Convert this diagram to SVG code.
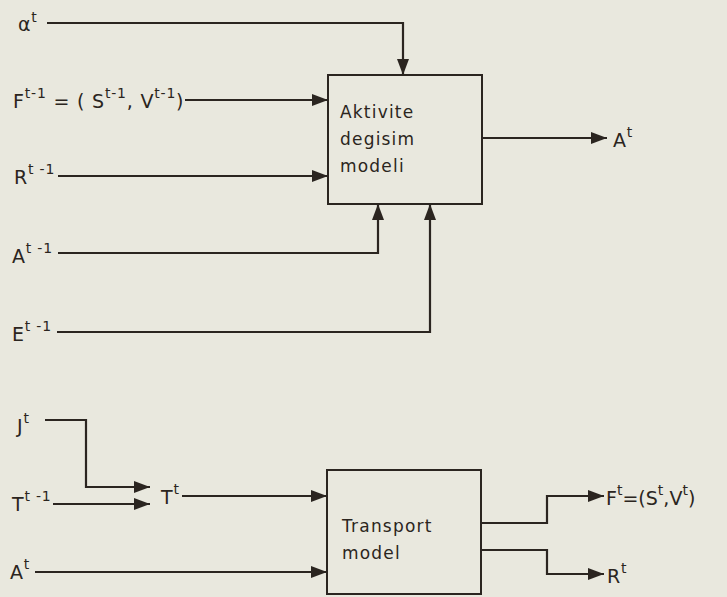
<svg xmlns="http://www.w3.org/2000/svg" width="727" height="597" viewBox="0 0 727 597">
<style>
.ln{fill:none;stroke:#2b2520;stroke-width:2.2;}
.bx{fill:none;stroke:#2b2520;stroke-width:2;}
.t{font-family:"DejaVu Sans",sans-serif;font-size:19px;fill:#2b2520;letter-spacing:0.8px;}
.b{font-family:"DejaVu Sans",sans-serif;font-size:17px;fill:#2b2520;letter-spacing:1.2px;}
.s{font-size:14px;}
</style>
<defs>
<marker id="ar" markerWidth="16" markerHeight="12" refX="16" refY="6" orient="auto" markerUnits="userSpaceOnUse">
<path d="M0,0 L16,6 L0,12 Z" fill="#2b2520"/>
</marker>
</defs>
<rect width="727" height="597" fill="#e9e8de"/>
<g id="aktivite">
<rect class="bx" x="328" y="75" width="154" height="129"/>
<text class="b" x="340" y="118">Aktivite</text>
<text class="b" x="340" y="145">degisim</text>
<text class="b" x="340" y="172">modeli</text>
</g>
<g id="transport">
<rect class="bx" x="327" y="470" width="154" height="124"/>
<text class="b" x="342" y="532">Transport</text>
<text class="b" x="342" y="559">model</text>
</g>
<g id="labels">
<text class="t" x="18" y="31">α<tspan class="s" dy="-9">t</tspan></text>
<text class="t" x="13" y="108">F<tspan class="s" dy="-10">t-1</tspan><tspan dy="10"> = ( S</tspan><tspan class="s" dy="-10">t-1</tspan><tspan dy="10">, V</tspan><tspan class="s" dy="-10">t-1</tspan><tspan dy="10">)</tspan></text>
<text class="t" x="14" y="184">R<tspan class="s" dy="-10">t -1</tspan></text>
<text class="t" x="12" y="263">A<tspan class="s" dy="-10">t -1</tspan></text>
<text class="t" x="12" y="341">E<tspan class="s" dy="-10">t -1</tspan></text>
<text class="t" x="17" y="433">J<tspan class="s" dy="-10">t</tspan></text>
<text class="t" x="12" y="511">T<tspan class="s" dy="-10">t -1</tspan></text>
<text class="t" x="161" y="504">T<tspan class="s" dy="-10">t</tspan></text>
<text class="t" x="10" y="579">A<tspan class="s" dy="-10">t</tspan></text>
<text class="t" x="613" y="147">A<tspan class="s" dy="-10">t</tspan></text>
<text class="t" x="606" y="505" style="letter-spacing:0">F<tspan class="s" dy="-10">t</tspan><tspan dy="10">=(S</tspan><tspan class="s" dy="-10">t</tspan><tspan dy="10">,V</tspan><tspan class="s" dy="-10">t</tspan><tspan dy="10">)</tspan></text>
<text class="t" x="607" y="583">R<tspan class="s" dy="-10">t</tspan></text>
</g>
<g id="connectors">
<polyline class="ln" points="47,23 403,23 403,75" marker-end="url(#ar)"/>
<line class="ln" x1="185" y1="100" x2="328" y2="100" marker-end="url(#ar)"/>
<line class="ln" x1="58" y1="176" x2="328" y2="176" marker-end="url(#ar)"/>
<polyline class="ln" points="58,253 378,253 378,204" marker-end="url(#ar)"/>
<polyline class="ln" points="57,332 430,332 430,204" marker-end="url(#ar)"/>
<line class="ln" x1="482" y1="138" x2="607" y2="138" marker-end="url(#ar)"/>
<polyline class="ln" points="45,420 86,420 86,487 150,487" marker-end="url(#ar)"/>
<line class="ln" x1="53" y1="504" x2="150" y2="504" marker-end="url(#ar)"/>
<line class="ln" x1="182" y1="496" x2="327" y2="496" marker-end="url(#ar)"/>
<line class="ln" x1="35" y1="572" x2="327" y2="572" marker-end="url(#ar)"/>
<polyline class="ln" points="481,523 547,523 547,496 604,496" marker-end="url(#ar)"/>
<polyline class="ln" points="481,550 547,550 547,574 604,574" marker-end="url(#ar)"/>
</g>
</svg>
